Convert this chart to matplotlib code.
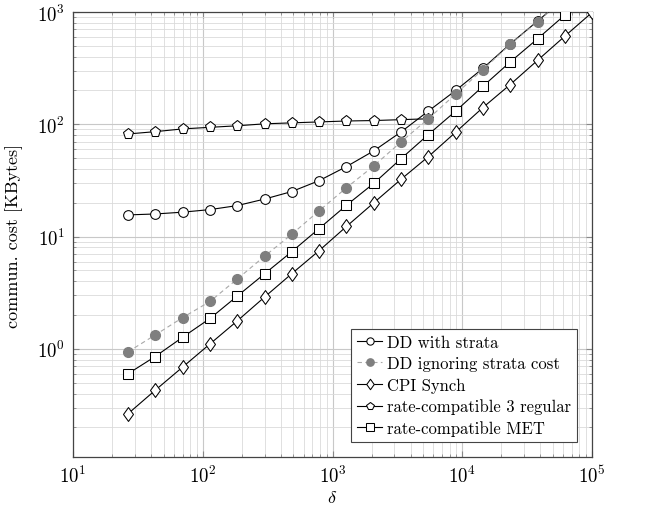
import matplotlib
matplotlib.use("Agg")
import matplotlib.pyplot as plt
from matplotlib.ticker import LogLocator, NullFormatter
from matplotlib.path import Path

plt.rcParams['font.family'] = ['cmr10', 'DejaVu Serif']
plt.rcParams['mathtext.fontset'] = 'cm'
plt.rcParams['axes.formatter.use_mathtext'] = True

delta = [26.5, 43, 70, 114, 185, 300, 486, 789, 1280, 2080, 3375, 5475,
         8890, 14430, 23420, 38020, 61700, 100000]

dd_strata = [15.6, 15.9, 16.5, 17.4, 18.9, 21.6, 25.2, 31.5, 42, 58, 85.5,
             131, 200, 315, 520, 830, 1330]
dd_ignoring = [0.94, 1.33, 1.9, 2.65, 4.2, 6.7, 10.5, 17.0, 27.2, 42.6, 69.7,
               112, 186, 307, 514, 820, 1320]
cpi_synch = [0.264, 0.428, 0.689, 1.11, 1.78, 2.90, 4.68, 7.5, 12.3, 20.0,
             32.4, 51.5, 85, 141, 226, 371, 609, 990]
rc_3regular = [82, 86, 91, 94, 97, 101, 103, 105, 107, 108, 110, 112]
rc_met = [0.60, 0.855, 1.27, 1.87, 2.96, 4.67, 7.35, 11.8, 19.0, 29.8, 49.4,
          81, 131, 218, 359, 577, 940, 1530]

diamond = Path([(0, 1), (0.72, 0), (0, -1), (-0.72, 0), (0, 1)],
               [Path.MOVETO, Path.LINETO, Path.LINETO, Path.LINETO,
                Path.CLOSEPOLY])

fig = plt.figure(figsize=(6.5, 5.06), dpi=100)
ax = fig.add_axes([0.1123, 0.0949, 0.7985, 0.8794])

lw = 0.8
ms = 7
ax.plot(delta[:len(dd_strata)], dd_strata, '-', color='black', lw=lw,
        marker='o', ms=ms, mfc='white', mec='black', mew=0.75,
        label='DD with strata', zorder=3)
ax.plot(delta[:len(dd_ignoring)], dd_ignoring, '--', color='#a8a8a8', lw=lw,
        dashes=(4, 3), marker='o', ms=ms, mfc='#7f7f7f', mec='#7f7f7f',
        label='DD ignoring strata cost', zorder=4)
ax.plot(delta[:len(cpi_synch)], cpi_synch, '-', color='black', lw=lw,
        marker=diamond, ms=ms + 3, mfc='white', mec='black', mew=0.75,
        label='CPI Synch', zorder=3)
ax.plot(delta[:len(rc_3regular)], rc_3regular, '-', color='black', lw=lw,
        marker='p', ms=ms + 1, mfc='white', mec='black', mew=0.75,
        label='rate-compatible 3 regular', zorder=3)
ax.plot(delta[:len(rc_met)], rc_met, '-', color='black', lw=lw,
        marker='s', ms=ms + 0.5, mfc='white', mec='black', mew=0.75,
        label='rate-compatible MET', zorder=3)

ax.set_xscale('log')
ax.set_yscale('log')
ax.set_xlim(10, 1e5)
ax.set_ylim(0.109, 1e3)

ax.xaxis.set_major_locator(LogLocator(base=10, numticks=10))
ax.xaxis.set_minor_locator(LogLocator(base=10, subs=range(2, 10), numticks=100))
ax.yaxis.set_major_locator(LogLocator(base=10, numticks=10))
ax.yaxis.set_minor_locator(LogLocator(base=10, subs=range(2, 10), numticks=100))
ax.yaxis.set_minor_formatter(NullFormatter())
ax.xaxis.set_minor_formatter(NullFormatter())

ax.grid(True, which='major', color='#c8c8c8', lw=0.8)
ax.grid(True, which='minor', color='#dadada', lw=0.6)
ax.set_axisbelow(True)

ax.tick_params(which='both', direction='in', top=True, right=True,
               labelsize=13.5, color='#888888')
ax.tick_params(which='major', length=4)
ax.tick_params(axis='x', which='major', pad=5.5)
ax.tick_params(axis='y', which='major', pad=6)
ax.tick_params(which='minor', length=2.5)
for s in ax.spines.values():
    s.set_color('#444444')
    s.set_linewidth(0.9)

ax.set_xlabel(r'$\delta$', fontsize=13, labelpad=2)
ax.set_ylabel('commun. cost [KBytes]', fontsize=13, labelpad=10)

leg = ax.legend(loc='lower right', fontsize=12, frameon=True, fancybox=False,
                edgecolor='#444444', framealpha=1, handlelength=1.5,
                handletextpad=0.3, borderpad=0.35, labelspacing=0.36,
                borderaxespad=0.9, markerscale=0.75)
leg.get_frame().set_linewidth(0.8)

fig.savefig('out.png', dpi=100)
